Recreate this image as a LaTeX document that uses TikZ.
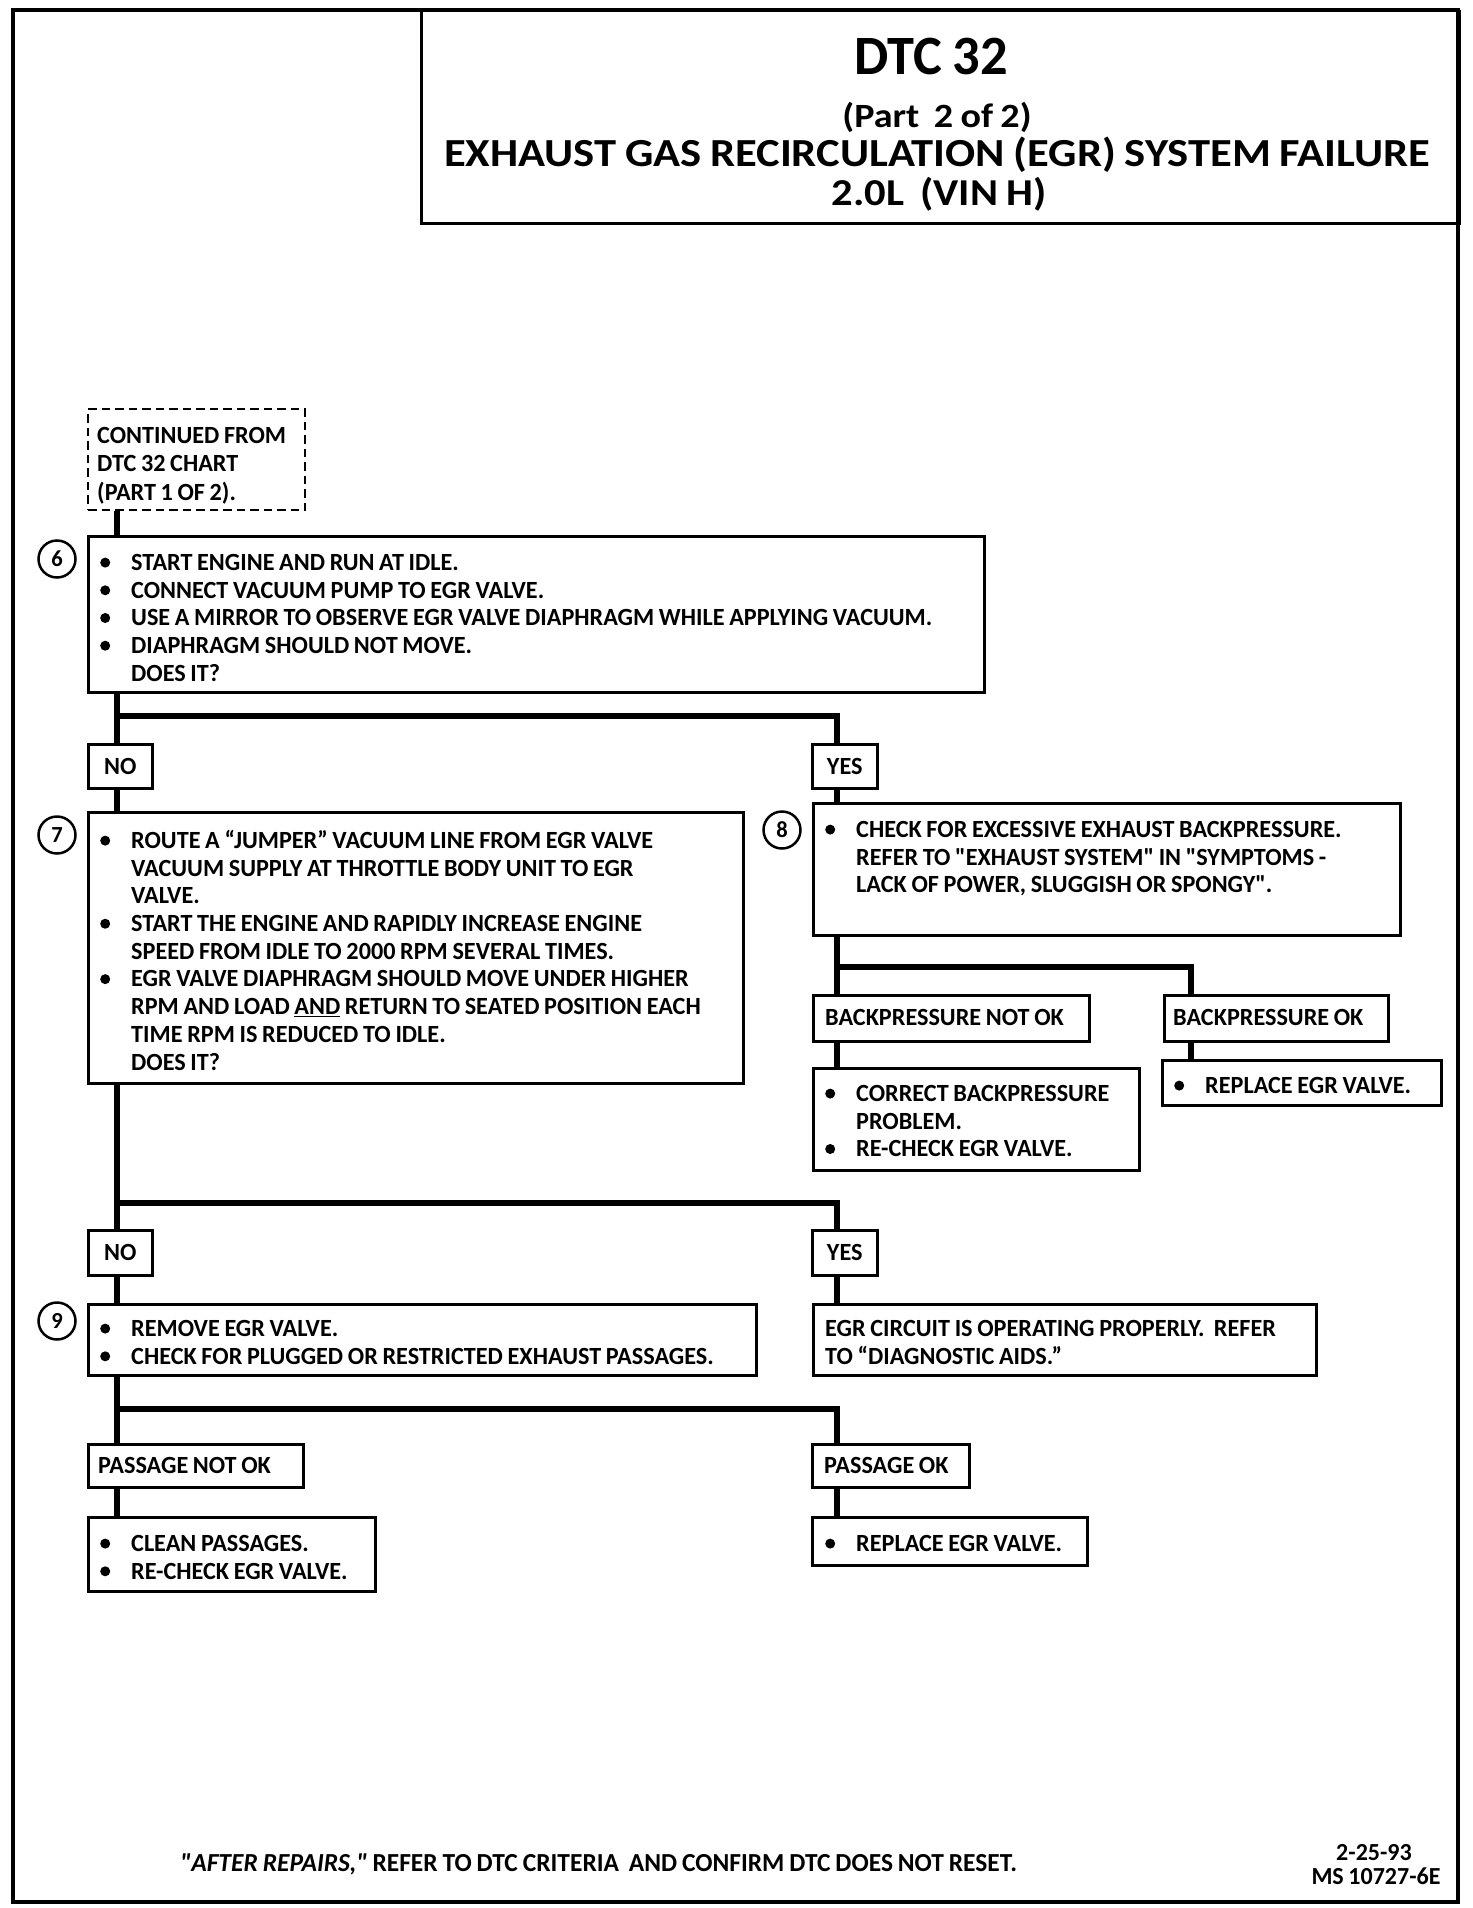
\documentclass[tikz,border=0pt]{standalone}
\usepackage{fontspec}
\setmainfont{Carlito}[FakeStretch=0.98,WordSpace=0.85]
\newfontfamily\titlef{Carlito}[FakeStretch=1.12,WordSpace=0.85]
\newfontfamily\rawf{Carlito}[FakeStretch=0.98,Ligatures=TeXOff]
\newcommand\sq{{\rawf\bfseries"}}
\newcommand\bodyf{\fontsize{24.7}{27.7}\selectfont\bfseries}
\newcommand\blt{\makebox[32pt][l]{\hspace*{1pt}\tikz[baseline=-7.8pt]\fill (0pt,0pt) circle[radius=5pt];}}
\newcommand\indt{\hspace*{32pt}}
\begin{document}
\begin{tikzpicture}[x=1pt,y=-1pt,
  bx/.style={draw, line width=2.5pt, rectangle, anchor=north west, inner sep=0pt},
  txt/.style={anchor=north west, inner sep=0pt, align=left, font=\bodyf},
  ltxt/.style={anchor=west, inner sep=0pt, font=\bodyf},
  yn/.style={draw, line width=2.5pt, rectangle, anchor=north west, inner sep=0pt, align=center, font=\bodyf},
  circ/.style={draw, circle, line width=2.5pt, minimum size=37pt, inner sep=0pt, font=\fontsize{23}{23}\selectfont\bfseries},
  conn/.style={line width=6.5pt, line cap=butt, line join=miter},
  ttl/.style={anchor=base, inner sep=0pt}
]
\useasboundingbox (0,0) rectangle (1472,1908);
\fill[white] (0,0) rectangle (1472,1908);
% outer frame
\draw[line width=4pt] (13,10) rectangle (1458,1902);
% title block
\node[draw, line width=2.5pt, anchor=north west, minimum width=1038pt, minimum height=212pt, inner sep=0pt] (title) at (420,10) {};
\node[ttl, font=\fontsize{55.5}{55.5}\selectfont\bfseries] (t1) at (931,75) {DTC 32};
\node[ttl, font=\fontsize{34}{34}\selectfont\titlef\bfseries] (t2) at (937,128) {(Part~ 2 of 2)};
\node[ttl, font=\fontsize{39.8}{39.8}\selectfont\titlef\bfseries] (t3) at (937,166) {EXHAUST GAS RECIRCULATION (EGR) SYSTEM FAILURE};
\node[ttl, font=\fontsize{38}{38}\selectfont\titlef\bfseries] (t4) at (939,205) {2.0L~ (VIN H)};

% guide coordinates
\coordinate (L) at (117,0);
\coordinate (R) at (837,0);
\coordinate (BR) at (1191,0);

% continued box
\node[bx, dashed, dash pattern=on 8.5pt off 5pt, line width=2pt, minimum width=217pt, minimum height=101pt] (cont) at (87,408) {};
\node[txt, font=\fontsize{24.7}{28.5}\selectfont\bfseries] (contt) at (97,427)
  {CONTINUED FROM\\DTC 32 CHART\\(PART 1 OF 2).};

% step 6
\node[bx, minimum width=896pt, minimum height=156pt] (b6) at (87,535) {};
\node[txt] (b6t) at (99,554)
  {\blt START ENGINE AND RUN AT IDLE.\\
   \blt CONNECT VACUUM PUMP TO EGR VALVE.\\
   \blt USE A MIRROR TO OBSERVE EGR VALVE DIAPHRAGM WHILE APPLYING VACUUM.\\
   \blt DIAPHRAGM SHOULD NOT MOVE.\\
   \indt DOES IT?};
\node[circ] (c6) at (57,559) {6};

\node[yn, minimum width=64pt, minimum height=44pt] (no1) at (87,743) {NO};
\node[yn, minimum width=65pt, minimum height=44pt] (yes1) at (811,743) {YES};

% step 7
\node[bx, minimum width=655pt, minimum height=271pt] (b7) at (87,811) {};
\node[txt] (b7t) at (99,830)
  {\blt ROUTE A “JUMPER” VACUUM LINE FROM EGR VALVE\\
   \indt VACUUM SUPPLY AT THROTTLE BODY UNIT TO EGR\\
   \indt VALVE.\\
   \blt START THE ENGINE AND RAPIDLY INCREASE ENGINE\\
   \indt SPEED FROM IDLE TO 2000 RPM SEVERAL TIMES.\\
   \blt EGR VALVE DIAPHRAGM SHOULD MOVE UNDER HIGHER\\
   \indt RPM AND LOAD \underline{AND} RETURN TO SEATED POSITION EACH\\
   \indt TIME RPM IS REDUCED TO IDLE.\\
   \indt DOES IT?};
\node[circ] (c7) at (57,835) {7};

% step 8
\node[bx, minimum width=587pt, minimum height=132pt] (b8) at (812,802) {};
\node[txt] (b8t) at (824,821)
  {\blt CHECK FOR EXCESSIVE EXHAUST BACKPRESSURE.\\
   \indt REFER TO \sq EXHAUST SYSTEM\sq{} IN \sq SYMPTOMS -\\
   \indt LACK OF POWER, SLUGGISH OR SPONGY\sq.};
\node[circ] (c8) at (782,830) {8};

\node[bx, minimum width=276pt, minimum height=46pt] (bpn) at (812,994) {};
\node[ltxt] (bpnt) at (825,1017) {BACKPRESSURE NOT OK};
\node[bx, minimum width=224pt, minimum height=46pt] (bpo) at (1163,994) {};
\node[ltxt] (bpot) at (1173,1017) {BACKPRESSURE OK};

\node[bx, minimum width=326pt, minimum height=102pt] (cbp) at (812,1067) {};
\node[txt] (cbpt) at (824,1085)
  {\blt CORRECT BACKPRESSURE\\
   \indt PROBLEM.\\
   \blt RE-CHECK EGR VALVE.};
\node[bx, minimum width=279pt, minimum height=45pt] (rep1) at (1161,1059) {};
\node[txt] (rep1t) at (1173,1077) {\blt REPLACE EGR VALVE.};

\node[yn, minimum width=64pt, minimum height=45pt] (no2) at (87,1229) {NO};
\node[yn, minimum width=65pt, minimum height=45pt] (yes2) at (811,1229) {YES};

% step 9
\node[bx, minimum width=668pt, minimum height=71pt] (b9) at (87,1303) {};
\node[txt] (b9t) at (99,1320)
  {\blt REMOVE EGR VALVE.\\
   \blt CHECK FOR PLUGGED OR RESTRICTED EXHAUST PASSAGES.};
\node[circ] (c9) at (57,1321) {9};

\node[bx, minimum width=503pt, minimum height=71pt] (egr) at (812,1303) {};
\node[txt] (egrt) at (825,1320)
  {EGR CIRCUIT IS OPERATING PROPERLY.~ REFER\\
   TO “DIAGNOSTIC AIDS.”};

\node[bx, minimum width=215pt, minimum height=43pt] (pno) at (87,1443) {};
\node[ltxt] (pnot) at (98,1465) {PASSAGE NOT OK};
\node[bx, minimum width=157pt, minimum height=43pt] (pok) at (811,1443) {};
\node[ltxt] (pokt) at (824,1465) {PASSAGE OK};

\node[bx, minimum width=287pt, minimum height=74pt] (clean) at (87,1516) {};
\node[txt] (cleant) at (99,1535)
  {\blt CLEAN PASSAGES.\\
   \blt RE-CHECK EGR VALVE.};
\node[bx, minimum width=275pt, minimum height=48pt] (rep2) at (811,1516) {};
\node[txt] (rep2t) at (824,1535) {\blt REPLACE EGR VALVE.};

% connectors
\draw[conn] (cont.south -| L) -- (b6.north -| L);
\draw[conn] (b6.south -| L) -- (no1.north -| L);
\coordinate (j1) at (117,716);
\draw[conn] (j1) -| (yes1.north -| R);
\draw[conn] (no1.south -| L) -- (b7.north -| L);
\draw[conn] (yes1.south -| R) -- (b8.north -| R);
\draw[conn] (b8.south -| R) -- (bpn.north -| R);
\coordinate (j2) at (837,967);
\draw[conn] (j2) -| (bpo.north -| BR);
\draw[conn] (bpn.south -| R) -- (cbp.north -| R);
\draw[conn] (bpo.south -| BR) -- (rep1.north -| BR);
\draw[conn] (b7.south -| L) -- (no2.north -| L);
\coordinate (j3) at (117,1203);
\draw[conn] (j3) -| (yes2.north -| R);
\draw[conn] (no2.south -| L) -- (b9.north -| L);
\draw[conn] (yes2.south -| R) -- (egr.north -| R);
\draw[conn] (b9.south -| L) -- (pno.north -| L);
\coordinate (j4) at (117,1409);
\draw[conn] (j4) -| (pok.north -| R);
\draw[conn] (pno.south -| L) -- (clean.north -| L);
\draw[conn] (pok.south -| R) -- (rep2.north -| R);

% footer
\node[anchor=base west, inner sep=0pt, font=\fontsize{26}{26}\selectfont\bfseries] (foot) at (180,1871)
  {{\itshape{\rawf\bfseries\itshape"}AFTER REPAIRS,{\rawf\bfseries\itshape"}} REFER TO DTC CRITERIA~ AND CONFIRM DTC DOES NOT RESET.};
\node[anchor=base, inner sep=0pt, font=\fontsize{24.5}{24.5}\selectfont\bfseries] (code1) at (1374,1860) {2-25-93};
\node[anchor=base, inner sep=0pt, font=\fontsize{24.5}{24.5}\selectfont\bfseries] (code2) at (1376,1884) {MS 10727-6E};
\end{tikzpicture}
\end{document}
